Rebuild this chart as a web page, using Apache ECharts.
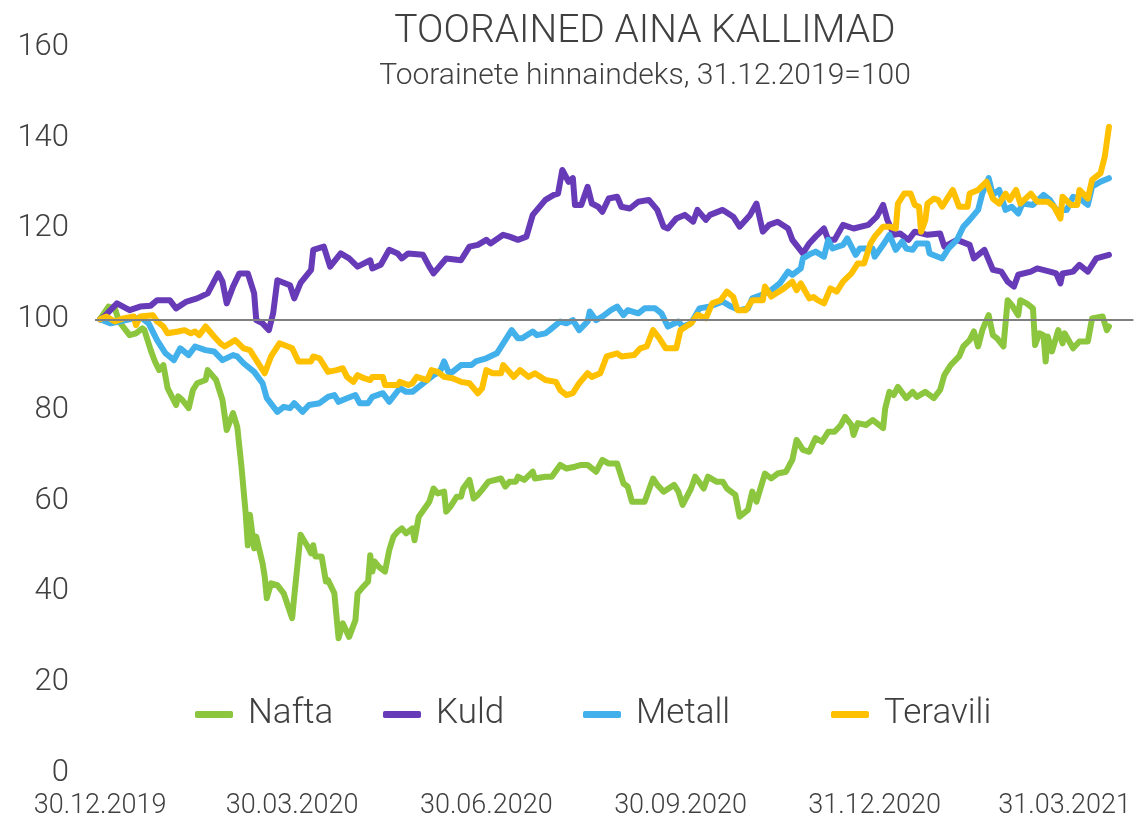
<!DOCTYPE html>
<html>
<head>
<meta charset="utf-8">
<title>Toorained aina kallimad</title>
<script src="https://cdn.jsdelivr.net/npm/echarts@6/dist/echarts.min.js"></script>
<style>
    html, body { margin: 0; padding: 0; background: #fff; }
    #chart { width: 1134px; height: 823px; }
</style>
</head>
<body>
<div id="chart"></div>
<script>
// andmed (indeks, 31.12.2019 = 100)
const seriesNames = ['Nafta', 'Kuld', 'Metall', 'Teravili'];
const xTickDates = ['2019-12-30', '2020-03-30', '2020-06-30', '2020-09-30', '2020-12-31', '2021-03-31'];
const yTicks = [0, 20, 40, 60, 80, 100, 120, 140, 160];

// Nafta
const naftaDates = [
    '2019-12-30',
    '2020-01-03', '2020-01-06', '2020-01-08', '2020-01-13', '2020-01-16', '2020-01-19', '2020-01-20', '2020-01-23', '2020-01-25', '2020-01-27', '2020-01-29', '2020-01-31',
    '2020-02-04', '2020-02-05', '2020-02-07', '2020-02-10', '2020-02-12', '2020-02-14', '2020-02-18', '2020-02-19', '2020-02-23', '2020-02-26', '2020-02-28',
    '2020-03-02', '2020-03-04', '2020-03-06', '2020-03-08', '2020-03-09', '2020-03-10', '2020-03-12', '2020-03-13', '2020-03-16', '2020-03-17', '2020-03-18', '2020-03-20', '2020-03-23', '2020-03-26', '2020-03-30', '2020-03-31',
    '2020-04-03', '2020-04-06', '2020-04-08', '2020-04-09', '2020-04-10', '2020-04-13', '2020-04-15', '2020-04-16', '2020-04-19', '2020-04-21', '2020-04-23', '2020-04-26', '2020-04-29', '2020-04-30',
    '2020-05-02', '2020-05-05', '2020-05-06', '2020-05-07', '2020-05-08', '2020-05-10', '2020-05-13', '2020-05-15', '2020-05-17', '2020-05-19', '2020-05-21', '2020-05-23', '2020-05-26', '2020-05-27', '2020-05-29',
    '2020-06-02', '2020-06-03', '2020-06-05', '2020-06-07', '2020-06-10', '2020-06-11', '2020-06-13', '2020-06-16', '2020-06-18', '2020-06-19', '2020-06-22', '2020-06-24', '2020-06-26', '2020-06-28',
    '2020-07-01', '2020-07-07', '2020-07-09', '2020-07-11', '2020-07-14', '2020-07-15', '2020-07-18', '2020-07-22', '2020-07-23', '2020-07-28', '2020-07-31',
    '2020-08-04', '2020-08-07', '2020-08-11', '2020-08-14', '2020-08-17', '2020-08-21', '2020-08-24', '2020-08-27', '2020-08-31',
    '2020-09-03', '2020-09-05', '2020-09-07', '2020-09-13', '2020-09-17', '2020-09-19', '2020-09-22', '2020-09-27', '2020-09-29',
    '2020-10-01', '2020-10-05', '2020-10-07', '2020-10-11', '2020-10-13', '2020-10-17', '2020-10-20', '2020-10-22', '2020-10-26', '2020-10-28',
    '2020-11-01', '2020-11-03', '2020-11-05', '2020-11-09', '2020-11-12', '2020-11-15', '2020-11-19', '2020-11-21', '2020-11-22', '2020-11-24', '2020-11-27', '2020-11-30',
    '2020-12-03', '2020-12-06', '2020-12-09', '2020-12-12', '2020-12-15', '2020-12-17', '2020-12-20', '2020-12-21', '2020-12-23', '2020-12-27', '2020-12-30',
    '2021-01-04', '2021-01-05', '2021-01-07', '2021-01-09', '2021-01-11', '2021-01-15', '2021-01-18', '2021-01-20', '2021-01-24', '2021-01-28', '2021-01-31',
    '2021-02-02', '2021-02-05', '2021-02-09', '2021-02-11', '2021-02-14', '2021-02-16', '2021-02-18', '2021-02-20', '2021-02-23', '2021-02-25', '2021-02-27',
    '2021-03-02', '2021-03-04', '2021-03-06', '2021-03-09', '2021-03-10', '2021-03-13', '2021-03-16', '2021-03-17', '2021-03-19', '2021-03-21', '2021-03-22', '2021-03-23', '2021-03-25', '2021-03-28', '2021-03-30', '2021-03-31',
    '2021-04-04', '2021-04-07', '2021-04-11', '2021-04-13', '2021-04-18', '2021-04-20', '2021-04-21'
];
const naftaValues = [
    100,
    102.8, 102.4, 99.5, 96.5, 96.9, 98, 97.6, 93.2, 90.7, 88.8, 89.9, 84.8,
    81.1, 83, 82.2, 80.4, 84.4, 85.9, 86.6, 88.8, 86.6, 82.2, 75.6,
    79.3, 76.3, 67.5, 57.2, 50.2, 56.9, 49.5, 52.1, 46.2, 43.3, 38.5, 41.8, 41.4, 39.6, 34.1, 38.9,
    52.5, 50.2, 48.4, 50.2, 47.7, 47.7, 42.2, 42.5, 39.6, 29.7, 33, 30, 33.7, 39.6,
    40.7, 42.2, 48, 44.4, 46.6, 45.5, 44.4, 49.1, 52.1, 53.2, 53.9, 52.8, 53.9, 51.3, 56.5,
    59.1, 59.8, 62.7, 61.6, 62, 57.6, 58.7, 60.9, 60.9, 62.7, 64.6, 60.5, 61.3, 62.4,
    64.2, 64.9, 63.1, 64.2, 64.2, 65.3, 64.6, 66.4, 64.9, 65.3, 65.3,
    67.9, 67.1, 67.5, 67.9, 67.9, 66.4, 69, 68.2, 68.2,
    63.8, 63.1, 59.8, 59.8, 64.9, 63.5, 62, 63.5, 62,
    59.1, 62.7, 65.3, 62.7, 65.3, 64.2, 64.2, 62.7, 61.3, 56.5,
    58, 62, 59.8, 66, 64.9, 66, 66.4, 68.2, 69, 73.4, 71.2, 70.8,
    73.8, 73, 75.2, 75.2, 76.7, 78.5, 76.7, 74.5, 77.1, 76.7, 77.8,
    76, 80.4, 84, 83.3, 85.1, 82.6, 84, 82.9, 84, 82.6, 84.4,
    87.7, 89.9, 91.8, 94, 95.4, 97.3, 94, 97.6, 100.9, 96.5, 95.8,
    94, 104.2, 103.1, 100.9, 104.2, 103.5, 102.4, 94.3, 96.9, 96.5, 90.7, 96.2, 92.9, 97.6, 94.7, 96.9,
    93.6, 95.1, 95.1, 100.2, 100.6, 97.6, 98.4
];

// Kuld
const kuldDates = [
    '2019-12-30',
    '2020-01-01', '2020-01-07', '2020-01-13', '2020-01-18', '2020-01-23', '2020-01-26',
    '2020-02-01', '2020-02-04', '2020-02-09', '2020-02-14', '2020-02-19', '2020-02-24', '2020-02-26', '2020-02-28',
    '2020-03-02', '2020-03-05', '2020-03-09', '2020-03-12', '2020-03-13', '2020-03-16', '2020-03-19', '2020-03-21', '2020-03-23', '2020-03-29', '2020-03-31',
    '2020-04-03', '2020-04-08', '2020-04-09', '2020-04-14', '2020-04-17', '2020-04-22', '2020-04-26', '2020-04-30',
    '2020-05-06', '2020-05-07', '2020-05-11', '2020-05-15', '2020-05-19', '2020-05-21', '2020-05-24', '2020-05-31',
    '2020-06-03', '2020-06-05', '2020-06-11', '2020-06-18', '2020-06-22', '2020-06-26', '2020-06-30',
    '2020-07-02', '2020-07-08', '2020-07-11', '2020-07-15', '2020-07-19', '2020-07-22', '2020-07-28',
    '2020-08-01', '2020-08-03', '2020-08-05', '2020-08-08', '2020-08-10', '2020-08-11', '2020-08-14', '2020-08-17', '2020-08-19', '2020-08-22', '2020-08-24', '2020-08-27', '2020-08-31',
    '2020-09-02', '2020-09-06', '2020-09-10', '2020-09-15', '2020-09-19', '2020-09-22', '2020-09-24', '2020-09-28',
    '2020-10-02', '2020-10-06', '2020-10-08', '2020-10-12', '2020-10-14', '2020-10-20', '2020-10-25', '2020-10-28',
    '2020-11-02', '2020-11-05', '2020-11-08', '2020-11-11', '2020-11-15', '2020-11-20', '2020-11-22', '2020-11-27', '2020-11-30',
    '2020-12-03', '2020-12-07', '2020-12-09', '2020-12-12', '2020-12-16', '2020-12-21', '2020-12-28',
    '2021-01-01', '2021-01-04', '2021-01-06', '2021-01-09', '2021-01-12', '2021-01-16', '2021-01-19', '2021-01-25', '2021-01-31',
    '2021-02-02', '2021-02-08', '2021-02-14', '2021-02-16', '2021-02-21', '2021-02-25',
    '2021-03-01', '2021-03-04', '2021-03-07', '2021-03-09', '2021-03-15', '2021-03-18', '2021-03-24', '2021-03-27', '2021-03-29', '2021-03-30',
    '2021-04-04', '2021-04-07', '2021-04-11', '2021-04-15', '2021-04-18', '2021-04-21'
];
const kuldValues = [
    100,
    100.6, 103.5, 102, 102.8, 103, 104.2,
    104.2, 102.4, 103.9, 104.6, 105.7, 110.1, 108.3, 103.5,
    107.2, 110.1, 110.1, 105.7, 99.8, 99.1, 97.6, 101.3, 108.6, 107.5, 104.6,
    108, 110.9, 115.3, 116, 111.6, 114.5, 113.4, 111.6,
    113, 111.2, 112, 115.3, 114.5, 113.4, 114.5, 114.2,
    111.6, 110.1, 113.4, 113, 116, 116.4, 117.5,
    116.7, 118.6, 118.2, 117.5, 118.2, 123, 126.3,
    127.4, 127.7, 132.9, 130.3, 131.1, 125.2, 125.2, 129.2, 125.5, 124.8, 123.7, 126.6, 127,
    124.8, 124.4, 125.9, 126.3, 124.1, 120.4, 120, 122.2,
    123, 121.5, 124.1, 121.9, 123, 124.1, 122.6, 120.4,
    123, 125.5, 119.3, 120.8, 121.5, 120, 117.5, 114.5, 116.7,
    118.2, 120, 117.5, 117.5, 120.8, 120, 120.8,
    122.6, 125.2, 121.9, 118.6, 118.9, 117.5, 119.3, 118.6, 118.9,
    116, 117.5, 116.4, 113.4, 115.3, 110.9,
    110.5, 108.3, 107.2, 109.8, 110.5, 111.2, 110.5, 110.1, 107.9, 110.1,
    110.5, 112, 110.5, 113.4, 113.8, 114.2
];

// Metall
const metallDates = [
    '2019-12-30',
    '2020-01-04', '2020-01-08', '2020-01-15', '2020-01-19', '2020-01-22', '2020-01-26', '2020-01-30',
    '2020-02-03', '2020-02-06', '2020-02-10', '2020-02-13', '2020-02-18', '2020-02-22', '2020-02-26',
    '2020-03-02', '2020-03-04', '2020-03-07', '2020-03-12', '2020-03-16', '2020-03-18', '2020-03-23', '2020-03-26', '2020-03-29', '2020-03-31',
    '2020-04-04', '2020-04-07', '2020-04-12', '2020-04-16', '2020-04-19', '2020-04-21', '2020-04-25', '2020-04-29',
    '2020-05-01', '2020-05-05', '2020-05-07', '2020-05-12', '2020-05-15', '2020-05-20', '2020-05-23', '2020-05-26', '2020-05-30',
    '2020-06-05', '2020-06-08', '2020-06-10', '2020-06-12', '2020-06-14', '2020-06-18', '2020-06-23', '2020-06-25', '2020-06-30',
    '2020-07-05', '2020-07-09', '2020-07-12', '2020-07-15', '2020-07-17', '2020-07-22', '2020-07-24', '2020-07-28', '2020-07-30',
    '2020-08-04', '2020-08-07', '2020-08-10', '2020-08-13', '2020-08-17', '2020-08-18', '2020-08-21', '2020-08-24', '2020-08-28', '2020-08-31',
    '2020-09-03', '2020-09-05', '2020-09-10', '2020-09-13', '2020-09-18', '2020-09-21', '2020-09-24', '2020-09-29',
    '2020-10-01', '2020-10-05', '2020-10-09', '2020-10-14', '2020-10-20', '2020-10-24', '2020-10-28',
    '2020-11-01', '2020-11-03', '2020-11-07', '2020-11-12', '2020-11-16', '2020-11-20', '2020-11-22', '2020-11-26', '2020-11-27',
    '2020-12-01', '2020-12-03', '2020-12-07', '2020-12-09', '2020-12-11', '2020-12-16', '2020-12-18', '2020-12-22', '2020-12-24', '2020-12-30', '2020-12-31',
    '2021-01-04', '2021-01-07', '2021-01-10', '2021-01-13', '2021-01-15', '2021-01-18', '2021-01-20', '2021-01-25', '2021-01-26',
    '2021-02-01', '2021-02-04', '2021-02-08', '2021-02-11', '2021-02-14', '2021-02-18', '2021-02-20', '2021-02-23', '2021-02-25', '2021-02-28',
    '2021-03-03', '2021-03-06', '2021-03-09', '2021-03-11', '2021-03-16', '2021-03-21', '2021-03-24', '2021-03-27',
    '2021-04-01', '2021-04-04', '2021-04-08', '2021-04-11', '2021-04-13', '2021-04-17', '2021-04-21'
];
const metallValues = [
    100,
    99.1, 99.5, 100.2, 100.2, 99.1, 95.4, 92.5,
    91, 93.6, 92.1, 94, 93.2, 92.9, 91,
    92.1, 91.8, 90.3, 88.4, 85.9, 82.6, 79.6, 80.7, 80.4, 81.5,
    79.6, 81.1, 81.5, 82.9, 83.3, 81.8, 82.6, 83.3,
    81.5, 81.5, 82.9, 83.7, 81.8, 84.8, 84, 84, 85.5,
    87.7, 88.4, 90.7, 88.4, 88.4, 89.9, 89.9, 90.7, 91.4,
    92.5, 95.4, 97.6, 95.8, 95.8, 97.3, 96.5, 96.9, 97.6,
    99.5, 99.1, 99.8, 97.6, 99.5, 101.7, 99.8, 100.6, 102, 102.8,
    100.9, 102, 101.3, 102.4, 102.4, 101.3, 98.4, 99.5,
    98.4, 99.1, 102.4, 102.8, 103.9, 102.8, 102,
    102.4, 104.6, 105.3, 106.4, 107.9, 110.5, 109.8, 111.2, 113.4,
    114.5, 114.9, 113.8, 117.5, 115.6, 116.4, 117.8, 114.2, 115.6, 115.6, 113.8,
    116.4, 118.6, 115.3, 117.1, 115.6, 115.3, 116.7, 116.7, 114.5,
    113.4, 115.6, 117.5, 120.4, 121.9, 124.1, 127.7, 131.1, 127.4, 128.5,
    124.1, 124.8, 123.3, 125.5, 125.2, 127.4, 126.3, 124.1,
    124.1, 127, 126.3, 125.2, 129.2, 130.3, 131.1
];

// Teravili
const teraviliDates = [
    '2019-12-30',
    '2020-01-02', '2020-01-06', '2020-01-10', '2020-01-15', '2020-01-16', '2020-01-18', '2020-01-24', '2020-01-26', '2020-01-29', '2020-01-31',
    '2020-02-05', '2020-02-08', '2020-02-11', '2020-02-13', '2020-02-15', '2020-02-18', '2020-02-22', '2020-02-25', '2020-02-27',
    '2020-03-03', '2020-03-07', '2020-03-10', '2020-03-14', '2020-03-17', '2020-03-20', '2020-03-24', '2020-03-28', '2020-03-30',
    '2020-04-02', '2020-04-08', '2020-04-09', '2020-04-12', '2020-04-16', '2020-04-20', '2020-04-23', '2020-04-25', '2020-04-28', '2020-04-30',
    '2020-05-03', '2020-05-06', '2020-05-07', '2020-05-12', '2020-05-13', '2020-05-19', '2020-05-20', '2020-05-24', '2020-05-26', '2020-05-28',
    '2020-06-02', '2020-06-04', '2020-06-07', '2020-06-10', '2020-06-14', '2020-06-18', '2020-06-22', '2020-06-26', '2020-06-28', '2020-06-30',
    '2020-07-03', '2020-07-07', '2020-07-08', '2020-07-13', '2020-07-16', '2020-07-20', '2020-07-23', '2020-07-28',
    '2020-08-02', '2020-08-04', '2020-08-07', '2020-08-10', '2020-08-13', '2020-08-17', '2020-08-19', '2020-08-23', '2020-08-26', '2020-08-31',
    '2020-09-02', '2020-09-08', '2020-09-11', '2020-09-14', '2020-09-17', '2020-09-20', '2020-09-23', '2020-09-28', '2020-09-30',
    '2020-10-05', '2020-10-08', '2020-10-12', '2020-10-15', '2020-10-19', '2020-10-22', '2020-10-25', '2020-10-27', '2020-10-31',
    '2020-11-03', '2020-11-08', '2020-11-09', '2020-11-12', '2020-11-18', '2020-11-22', '2020-11-24', '2020-11-26', '2020-11-30',
    '2020-12-02', '2020-12-04', '2020-12-07', '2020-12-10', '2020-12-13', '2020-12-16', '2020-12-20', '2020-12-23', '2020-12-26', '2020-12-29', '2020-12-31',
    '2021-01-04', '2021-01-07', '2021-01-10', '2021-01-11', '2021-01-14', '2021-01-17', '2021-01-19', '2021-01-21', '2021-01-22', '2021-01-24', '2021-01-25', '2021-01-28', '2021-01-30',
    '2021-02-01', '2021-02-03', '2021-02-06', '2021-02-09', '2021-02-13', '2021-02-14', '2021-02-18', '2021-02-22', '2021-02-25', '2021-02-28',
    '2021-03-03', '2021-03-05', '2021-03-08', '2021-03-10', '2021-03-15', '2021-03-18', '2021-03-23', '2021-03-26', '2021-03-29', '2021-03-30',
    '2021-04-03', '2021-04-06', '2021-04-07', '2021-04-11', '2021-04-13', '2021-04-17', '2021-04-19', '2021-04-21'
];
const teraviliValues = [
    100,
    100.6, 99.5, 100.2, 100.6, 98.7, 100.6, 100.9, 99.5, 98.4, 96.9,
    97.3, 97.6, 96.9, 97.3, 96.5, 98.4, 96.2, 94.7, 94,
    95.4, 93.6, 93.2, 90.3, 88.1, 91.8, 94.7, 94, 93.6,
    90.7, 90.7, 91.8, 91.4, 88.4, 88.8, 89.2, 87.3, 86.2, 87.7,
    87, 86.6, 87.3, 87.3, 85.5, 85.5, 86.2, 85.5, 85.9, 87.3,
    86.6, 88.8, 88.4, 87.3, 87, 86.2, 85.9, 83.7, 84.8, 88.8,
    88.1, 88.1, 89.9, 87.3, 88.8, 87.3, 88.1, 86.6,
    86.2, 84.4, 83.3, 83.7, 85.9, 88.1, 87.3, 88.1, 91.8, 92.5,
    91.8, 92.1, 93.6, 94, 97.6, 95.8, 93.6, 93.6, 97.6,
    99.1, 101, 100.2, 103.5, 104.2, 106.1, 104.9, 102, 102,
    104.2, 104.2, 107.2, 105, 106.8, 108.3, 106.4, 107.9, 104.6,
    104.9, 104.2, 103.5, 106.8, 106.1, 108.3, 110.1, 112.3, 112.3, 116.7, 118.2,
    120.4, 120.4, 120, 125.5, 127.7, 127.7, 125.2, 124.8, 119.3, 121.9, 125.5, 126.6, 126.3,
    124.8, 126.3, 128.5, 124.8, 124.8, 127.7, 128.5, 130.3, 126.6, 125.5,
    127.7, 126.3, 128.5, 125.5, 127.7, 125.9, 125.9, 124.8, 122.2, 127,
    125.2, 125.2, 128.5, 126.6, 130.7, 132.2, 135.8, 142.4
];

const colors = ['#8cc63e', '#673ab7', '#41b0eb', '#ffc000'];
const textColor = '#404040';
const fontName = 'Roboto';

// kuupäev -> aeg (kohalik aeg)
let toTime = (s) => {
    let p = s.split('-');
    return new Date(+p[0], +p[1] - 1, +p[2]).getTime();
};
let pad = (n) => (n < 10 ? '0' : '') + n;
let fmtDate = (v) => {
    let d = new Date(Math.round(v));
    return pad(d.getDate()) + '.' + pad(d.getMonth() + 1) + '.' + d.getFullYear();
};
let pairs = (dates, values) => dates.map((d, i) => [toTime(d), values[i]]);

const DAY = 86400000;
let axisMin = toTime('2019-12-30') - 2.4 * DAY;
let axisMax = axisMin + 492 * DAY;

let allData = [
    pairs(naftaDates, naftaValues),
    pairs(kuldDates, kuldValues),
    pairs(metallDates, metallValues),
    pairs(teraviliDates, teraviliValues)
];

// legendid eraldi, et asukohad klapiks
let legendLeft = [190, 378, 578, 826];
let legends = seriesNames.map((name, i) => ({
    data: [name],
    left: legendLeft[i],
    top: 692,
    icon: 'roundRect',
    itemWidth: 38,
    itemHeight: 7,
    selectedMode: false,
    textStyle: {
        color: textColor,
        fontFamily: fontName,
        fontWeight: 300,
        fontSize: 35,
        padding: [0, 0, 0, 10]
    }
}));

let series = seriesNames.map((name, i) => {
    let s = {
        name: name,
        type: 'line',
        data: allData[i],
        showSymbol: false,
        symbol: 'none',
        color: colors[i],
        lineStyle: { width: 6, color: colors[i], join: 'round', cap: 'round' },
        animation: false
    };
    if (i === seriesNames.length - 1) {
        // 100 joon
        s.markLine = {
            silent: true,
            symbol: 'none',
            label: { show: false },
            lineStyle: { color: '#7f7f7f', width: 2, type: 'solid' },
            data: [{ yAxis: 100 }],
            animation: false
        };
    }
    return s;
});

let chart = echarts.init(document.getElementById('chart'));
let option = {
    backgroundColor: '#fff',
    animation: false,
    title: {
        text: 'TOORAINED AINA KALLIMAD',
        subtext: 'Toorainete hinnaindeks, 31.12.2019=100',
        left: 640,
        textAlign: 'center',
        top: 4,
        itemGap: 4,
        textStyle: { color: textColor, fontFamily: fontName, fontWeight: 300, fontSize: 39, lineHeight: 46 },
        subtextStyle: { color: textColor, fontFamily: fontName, fontWeight: 300, fontSize: 30, lineHeight: 34 }
    },
    legend: legends,
    grid: { left: 95, right: 0, top: 47, bottom: 50, containLabel: false },
    xAxis: {
        type: 'value',
        min: axisMin,
        max: axisMax,
        axisLine: { show: false },
        axisTick: { show: false },
        splitLine: { show: false },
        axisLabel: {
            customValues: xTickDates.map(toTime),
            formatter: fmtDate,
            color: textColor,
            fontFamily: fontName,
            fontWeight: 300,
            fontSize: 27,
            margin: 20,
            hideOverlap: false
        }
    },
    yAxis: {
        type: 'value',
        min: yTicks[0],
        max: yTicks[yTicks.length - 1],
        interval: 20,
        axisLine: { show: false },
        axisTick: { show: false },
        splitLine: { show: false },
        axisLabel: {
            color: textColor,
            fontFamily: fontName,
            fontWeight: 300,
            fontSize: 31,
            margin: 26
        }
    },
    series: series
};
chart.setOption(option);
</script>
</body>
</html>
